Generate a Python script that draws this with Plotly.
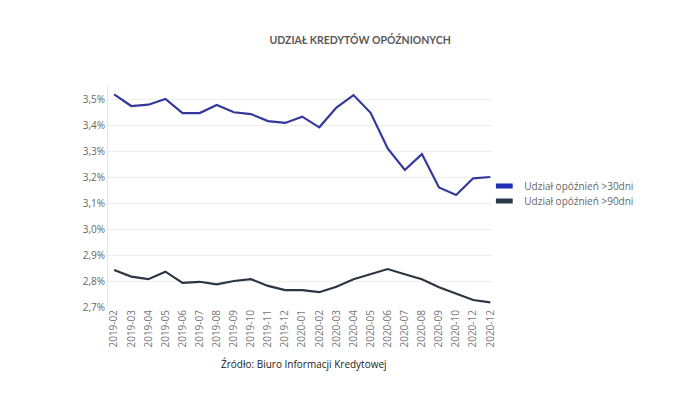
import plotly.graph_objects as go

months = ["2019-02", "2019-03", "2019-04", "2019-05", "2019-06", "2019-07", "2019-08",
          "2019-09", "2019-10", "2019-11", "2019-12", "2020-01", "2020-02", "2020-03",
          "2020-04", "2020-05", "2020-06", "2020-07", "2020-08", "2020-09", "2020-10",
          "2020-12", "2020-12"]
over30 = [3.518, 3.473, 3.478, 3.500, 3.446, 3.446, 3.477, 3.449, 3.442, 3.415, 3.408,
          3.432, 3.391, 3.467, 3.515, 3.447, 3.310, 3.227, 3.288, 3.160, 3.131, 3.195, 3.200]
over90 = [2.842, 2.817, 2.807, 2.836, 2.793, 2.797, 2.787, 2.800, 2.807, 2.781, 2.765,
          2.765, 2.757, 2.778, 2.807, 2.827, 2.846, 2.826, 2.807, 2.776, 2.750, 2.727, 2.718]
ytick_vals = [2.7, 2.8, 2.9, 3.0, 3.1, 3.2, 3.3, 3.4, 3.5]
ytick_text = ["2,7%", "2,8%", "2,9%", "3,0%", "3,1%", "3,2%", "3,3%", "3,4%", "3,5%"]
names = ["Udział opóźnień >30dni", "Udział opóźnień >90dni"]
colors = ["#33399a", "#2b3644"]
legend_colors = ["#1f2fb8", "#2b3a4a"]

idx = list(range(len(months)))
fig = go.Figure()
for vals, name, col in zip([over30, over90], names, colors):
    fig.add_trace(go.Scatter(x=idx, y=vals, mode="lines", name=name, showlegend=False,
                             line=dict(color=col, width=2.2)))
for name, col, lg in zip(names, legend_colors, ["legend", "legend2"]):
    fig.add_trace(go.Scatter(x=[None], y=[None], mode="markers", name=name, legend=lg,
                             marker=dict(symbol="line-ew", size=12,
                                         line=dict(width=6, color=col))))

legend_common = dict(xanchor="left", yanchor="middle", font=dict(size=10, color="#666666"),
                     bgcolor="rgba(0,0,0,0)", itemwidth=30)
fig.update_layout(
    width=672, height=408,
    paper_bgcolor="white", plot_bgcolor="white",
    margin=dict(l=100, r=188, t=78, b=109),
    font=dict(family="Open Sans", color="#666666"),
    title=dict(text="<b>UDZIAŁ KREDYTÓW OPÓŹNIONYCH</b>", x=0.524, xanchor="center",
               y=0.92, yanchor="middle", font=dict(family="Lato", size=10.5, color="#595959")),
    xaxis=dict(range=[-0.36, 22.1], tickmode="array", tickvals=idx, ticktext=months,
               tickangle=-90, tickfont=dict(size=10, color="#777777"), showgrid=False,
               zeroline=False, showline=False, ticks=""),
    yaxis=dict(range=[2.7, 3.55], tickmode="array", tickvals=ytick_vals, ticktext=ytick_text,
               tickfont=dict(size=10, color="#666666"), showgrid=True, gridcolor="#eeeeee",
               gridwidth=1, zeroline=False, showline=True, linecolor="#e6e6e6", ticks=""),
    legend=dict(x=0.98, y=0.5475, **legend_common),
    legend2=dict(x=0.98, y=0.48, **legend_common),
    annotations=[dict(text="Źródło: Biuro Informacji Kredytowej", xref="paper", yref="paper",
                      x=0.51, y=-0.26, xanchor="center", yanchor="middle", showarrow=False,
                      font=dict(size=10, color="#222222", family="Open Sans"))],
)
fig.write_html("out.html")
